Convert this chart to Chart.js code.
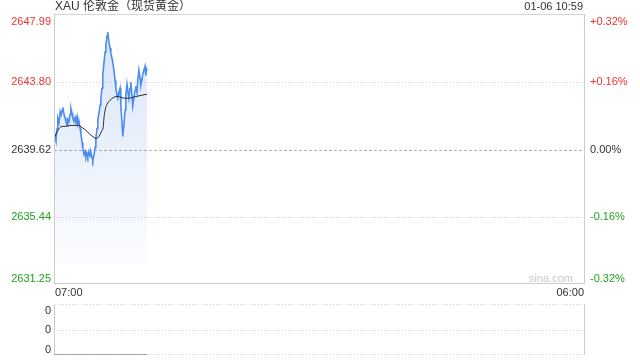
<!DOCTYPE html>
<html><head><meta charset="utf-8">
<script src="https://cdn.jsdelivr.net/npm/chart.js@4.4.1/dist/chart.umd.min.js"></script>
<style>
html,body{margin:0;padding:0;background:#fff;width:640px;height:360px;overflow:hidden}
#main{position:absolute;left:0;top:0}
#vol{position:absolute;left:0;top:300px}
</style></head><body>
<canvas id="main" width="640" height="300"></canvas>
<canvas id="vol" width="640" height="60"></canvas>
<script>
const titleText = 'XAU 伦敦金（现货黄金）';
const stampText = '01-06 10:59';
const timeLabels = ['07:00', '06:00'];
const watermark = 'sina.com';
// minutes after 07:00
const times = [0,3,5,8,10,13,16,18,21,23,26,29,31,34,36,39,42,44,47,49,52,55,57,60,62,65,68,70,73,75,78,81,83,86,88,91,94,96,99,101,104,107,109,112,114,117,120,122,125,127,130,133,135,138,140,143,146,148,151,153,156,159,161,164,166,169,172,174,177,179,182,185,187,190,192,195,198,200,203,205,208,211,213,216,218,221,224,226,229,231,234,237,239,242];
const prices = [2640.81,2640.37,2640.18,2640.93,2641.56,2641.31,2641.93,2641.68,2642.06,2642.24,2641.81,2641.56,2641.37,2641.12,2641.49,2641.37,2641.81,2642.18,2641.87,2641.56,2641.37,2641.62,2641.43,2641.68,2641.18,2641.37,2640.93,2640.62,2640.06,2639.68,2639.31,2639.50,2639.12,2639.37,2639.18,2639.50,2639.18,2639.43,2639.12,2638.93,2639.25,2639.75,2640.31,2640.93,2641.43,2641.87,2642.37,2642.81,2643.43,2644.24,2644.99,2645.68,2646.12,2646.68,2646.93,2646.30,2645.93,2645.62,2645.30,2645.05,2644.55,2643.93,2643.43,2642.99,2642.81,2643.18,2643.43,2642.37,2641.31,2640.43,2641.12,2642.06,2642.99,2643.68,2643.31,2642.81,2643.43,2643.80,2642.99,2642.31,2642.81,2643.31,2643.56,2643.18,2643.93,2644.55,2644.06,2643.62,2643.93,2644.31,2644.55,2644.80,2644.24,2644.68];
const avgTimes = [0,5,10,16,21,31,42,52,62,73,83,94,104,109,115,120,125,128,130,133,138,146,156,167,174,185,195,206,216,227,242];
const avgPrices = [2640.31,2640.56,2640.81,2640.99,2641.06,2641.06,2641.12,2641.12,2641.12,2640.99,2640.81,2640.56,2640.37,2640.31,2640.37,2640.56,2640.81,2640.99,2641.56,2642.06,2642.43,2642.68,2642.87,2642.93,2642.87,2642.81,2642.81,2642.87,2642.93,2642.99,2643.06];
const fillBase = 2632.56;
const priceTicks = [2647.99, 2643.80, 2639.62, 2635.44, 2631.25];
const priceTickLabels = ['2647.99', '2643.80', '2639.62', '2635.44', '2631.25'];
const pctTickLabels = ['+0.32%', '+0.16%', '0.00%', '-0.16%', '-0.32%'];
const tickColors = ['#f23030', '#f23030', '#333333', '#22a022', '#22a022'];
const volTimes = [0, 60, 120, 180, 242];
const volumes = [0, 0, 0, 0, 0];
const volTicks = [1, 0.5, 0];
const volTickLabels = ['0', '0', '0'];

const FONT = '"Liberation Sans", Arial, "Noto Sans CJK SC", sans-serif';

function hline(ctx, x1, x2, y, color, dash) {
  ctx.save();
  ctx.strokeStyle = color; ctx.lineWidth = 1; ctx.setLineDash(dash || []);
  ctx.beginPath(); ctx.moveTo(x1, Math.round(y) + 0.5); ctx.lineTo(x2, Math.round(y) + 0.5); ctx.stroke();
  ctx.restore();
}
function vline(ctx, x, y1, y2, color) {
  ctx.save();
  ctx.strokeStyle = color; ctx.lineWidth = 1;
  ctx.beginPath(); ctx.moveTo(Math.round(x) + 0.5, y1); ctx.lineTo(Math.round(x) + 0.5, y2); ctx.stroke();
  ctx.restore();
}

const mainPlugin = {
  id: 'mainDeco',
  beforeDatasetsDraw(chart) {
    const { ctx, chartArea: a, scales } = chart;
    const y = scales.y;
    priceTicks.forEach((v, i) => {
      if (i === 0 || i === priceTicks.length - 1) return;
      const py = y.getPixelForValue(v);
      if (i === 2) hline(ctx, a.left, a.right, py, '#b0b0b0', [3, 2]);
      else hline(ctx, a.left, a.right, py, '#cfcfcf', [1, 2]);
    });
  },
  afterDraw(chart) {
    const { ctx, chartArea: a, scales } = chart;
    const y = scales.y;
    hline(ctx, a.left, a.right + 1, a.top - 1, '#d6d6d6');
    hline(ctx, a.left, a.right + 1, a.bottom - 1, '#cccccc');
    vline(ctx, a.left, a.top - 1, a.bottom, '#cccccc');
    vline(ctx, a.right, a.top - 1, a.bottom, '#cccccc');
    ctx.save();
    ctx.font = '11px ' + FONT;
    priceTicks.forEach((v, i) => {
      let py = y.getPixelForValue(v);
      let base = 'middle';
      if (i === 0) { base = 'top'; py = a.top + 1; }
      if (i === priceTicks.length - 1) { base = 'bottom'; py = a.bottom; }
      ctx.textBaseline = base;
      ctx.fillStyle = tickColors[i];
      ctx.textAlign = 'right';
      ctx.fillText(priceTickLabels[i], a.left - 3, py);
      ctx.textAlign = 'left';
      ctx.fillText(pctTickLabels[i], a.right + 6, py);
    });
    ctx.fillStyle = '#c8c8c8';
    ctx.textAlign = 'right'; ctx.textBaseline = 'bottom';
    ctx.fillText(watermark, a.right - 11, a.bottom);
    ctx.fillStyle = '#333';
    ctx.textBaseline = 'middle';
    ctx.textAlign = 'left';
    ctx.fillText(timeLabels[0], chart.scales.x.getPixelForValue(chart.scales.x.min) + 1, a.bottom + 9);
    ctx.textAlign = 'right';
    ctx.fillText(timeLabels[1], chart.scales.x.getPixelForValue(chart.scales.x.max), a.bottom + 9);
    ctx.font = '12px ' + FONT;
    ctx.textAlign = 'left';
    ctx.fillText(titleText, a.left + 1, 7);
    ctx.font = '11px ' + FONT;
    ctx.textAlign = 'right';
    ctx.fillText(stampText, a.right - 1, 7);
    ctx.restore();
  }
};

new Chart(document.getElementById('main'), {
  type: 'line',
  data: {
    datasets: [
      {
        data: avgTimes.map((t, i) => ({ x: t, y: avgPrices[i] })),
        borderColor: '#2a2a2a', borderWidth: 1, fill: false, tension: 0.4,
        cubicInterpolationMode: 'monotone', pointRadius: 0
      },
      {
        data: times.map((t, i) => ({ x: t, y: prices[i] })),
        borderColor: '#4a8cf0', borderWidth: 1.6, pointRadius: 0, tension: 0,
        fill: { value: fillBase },
        backgroundColor(ctx) {
          const a = ctx.chart.chartArea;
          if (!a) return 'rgba(80,140,230,0.15)';
          const yb = ctx.chart.scales.y.getPixelForValue(fillBase);
          const g = ctx.chart.ctx.createLinearGradient(0, a.top, 0, yb);
          g.addColorStop(0, 'rgba(70,130,230,0.22)');
          g.addColorStop(1, 'rgba(70,130,230,0.025)');
          return g;
        }
      }
    ]
  },
  options: {
    responsive: false, animation: false, devicePixelRatio: 1,
    layout: { padding: { left: 54, right: 56, top: 15, bottom: 16 } },
    plugins: { legend: { display: false }, tooltip: { enabled: false } },
    scales: {
      x: { type: 'linear', min: 0, max: 1380, display: false },
      y: { min: priceTicks[priceTicks.length - 1], max: priceTicks[0], display: false }
    }
  },
  plugins: [mainPlugin]
});

const volPlugin = {
  id: 'volDeco',
  beforeDatasetsDraw(chart) {
    const { ctx, chartArea: a, scales } = chart;
    volTicks.forEach(v => {
      const py = scales.y.getPixelForValue(v);
      hline(ctx, a.left, a.right, py === a.bottom ? py - 1 : py, '#cfcfcf', [1, 2]);
    });
    vline(ctx, a.left, a.top, a.bottom, '#cccccc');
    vline(ctx, a.right, a.top, a.bottom, '#cccccc');
  },
  afterDraw(chart) {
    const { ctx, chartArea: a, scales } = chart;
    ctx.save();
    ctx.font = '11px ' + FONT;
    ctx.fillStyle = '#333';
    ctx.textAlign = 'right';
    volTicks.forEach((v, i) => {
      let py = scales.y.getPixelForValue(v);
      let base = 'middle';
      if (i === 0) { base = 'top'; py = a.top + 1; }
      if (i === volTicks.length - 1) { base = 'bottom'; py = a.bottom; }
      ctx.textBaseline = base;
      ctx.fillText(volTickLabels[i], a.left - 3, py);
    });
    ctx.restore();
  }
};

new Chart(document.getElementById('vol'), {
  type: 'line',
  data: {
    datasets: [{
      data: volTimes.map((t, i) => ({ x: t, y: volumes[i] })),
      borderColor: '#555', borderWidth: 1, pointRadius: 0, fill: false
    }]
  },
  options: {
    responsive: false, animation: false, devicePixelRatio: 1,
    layout: { padding: { left: 54, right: 56, top: 4, bottom: 5 } },
    plugins: { legend: { display: false }, tooltip: { enabled: false } },
    scales: {
      x: { type: 'linear', min: 0, max: 1380, display: false },
      y: { min: 0, max: 1, display: false }
    }
  },
  plugins: [volPlugin]
});
</script>
</body></html>
